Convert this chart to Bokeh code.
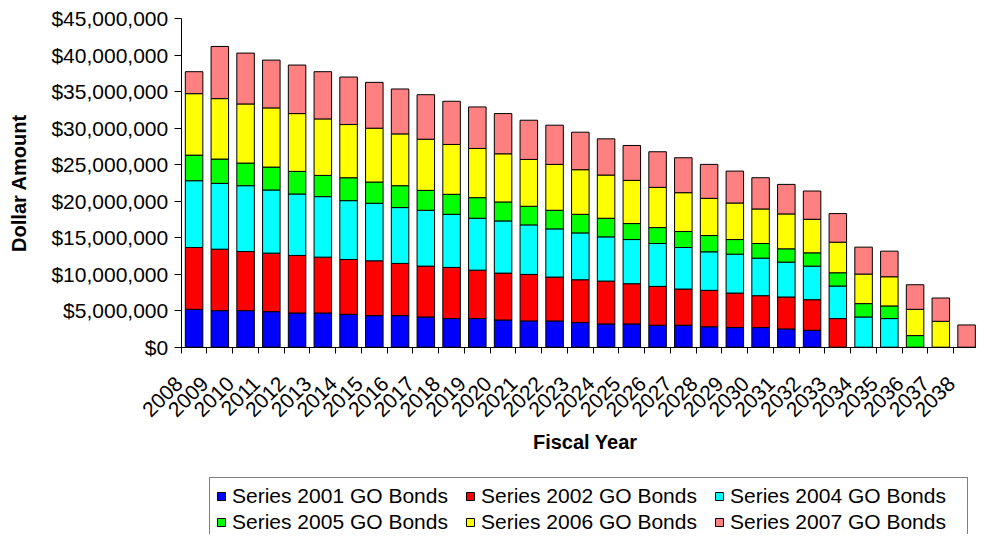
import math
from bokeh.plotting import figure
from bokeh.models import (ColumnDataSource, Range1d, FixedTicker, NumeralTickFormatter,
                          Legend, LegendItem, Label)
from bokeh.embed import file_html
from bokeh.resources import INLINE

years = ["2008", "2009", "2010", "2011", "2012", "2013", "2014", "2015", "2016", "2017",
         "2018", "2019", "2020", "2021", "2022", "2023", "2024", "2025", "2026", "2027",
         "2028", "2029", "2030", "2031", "2032", "2033", "2034", "2035", "2036", "2037", "2038"]

series_names = ["Series 2001 GO Bonds", "Series 2002 GO Bonds", "Series 2004 GO Bonds",
                "Series 2005 GO Bonds", "Series 2006 GO Bonds", "Series 2007 GO Bonds"]

# values in millions of dollars
s2001 = [5.19, 5.01, 5.01, 4.87, 4.69, 4.69, 4.51, 4.33, 4.33, 4.14, 3.92, 3.92, 3.73, 3.60, 3.60,
         3.37, 3.19, 3.19, 3.01, 3.01, 2.80, 2.69, 2.69, 2.50, 2.32, 0, 0, 0, 0, 0, 0]
s2002 = [8.47, 8.42, 8.10, 8.02, 7.88, 7.65, 7.51, 7.51, 7.15, 6.97, 7.01, 6.64, 6.42, 6.37, 6.01,
         5.87, 5.87, 5.51, 5.32, 4.96, 4.99, 4.73, 4.37, 4.38, 4.19, 3.92, 0, 0, 0, 0, 0]
s2004 = [9.15, 9.02, 9.02, 8.65, 8.42, 8.29, 8.06, 7.88, 7.65, 7.65, 7.28, 7.11, 7.15, 6.79, 6.60,
         6.42, 6.06, 6.05, 5.88, 5.69, 5.28, 5.33, 5.14, 4.78, 4.60, 4.46, 4.14, 3.92, 0, 0, 0]
s2005 = [3.51, 3.33, 3.10, 3.14, 3.10, 2.91, 3.14, 2.91, 3.00, 2.73, 2.74, 2.82, 2.60, 2.55, 2.55,
         2.55, 2.55, 2.19, 2.18, 2.19, 2.23, 2.00, 2.01, 1.82, 1.82, 1.82, 1.83, 1.73, 1.59, 0, 0]
s2006 = [8.42, 8.28, 8.10, 8.11, 7.92, 7.74, 7.29, 7.38, 7.10, 7.01, 6.83, 6.74, 6.60, 6.42, 6.29,
         6.11, 5.92, 5.92, 5.51, 5.32, 5.10, 5.01, 4.73, 4.78, 4.60, 4.19, 4.05, 4.00, 3.60, 3.55, 0]
s2007 = [3.01, 7.15, 6.97, 6.55, 6.65, 6.47, 6.51, 6.28, 6.15, 6.10, 5.92, 5.69, 5.51, 5.37, 5.37,
         5.14, 4.96, 4.78, 4.88, 4.79, 4.65, 4.37, 4.28, 4.05, 3.87, 3.92, 3.69, 3.51, 3.37, 3.19, 3.05]

y_ticks = [0, 5e6, 10e6, 15e6, 20e6, 25e6, 30e6, 35e6, 40e6, 45e6]

colors = ["#0000FF", "#FF0000", "#00FFFF", "#00FF00", "#FFFF00", "#FF8080"]
keys = ["s2001", "s2002", "s2004", "s2005", "s2006", "s2007"]
all_series = [s2001, s2002, s2004, s2005, s2006, s2007]

n = len(years)
centers = [i + 0.5 for i in range(n)]
label_pos = [i - 0.08 for i in range(n)]
data = {"x": centers, "year": years}
for k, s in zip(keys, all_series):
    data[k] = [v * 1e6 for v in s]
src = ColumnDataSource(data)

FONT = "Liberation Sans"

# The frame fills the whole canvas; both axes are pinned at 0 so that their
# labels, the axis titles and the legend all sit inside it.
p = figure(width=976, height=534, output_backend="svg", toolbar_location=None,
           x_range=Range1d(-7.0175, 30.885), y_range=Range1d(-25.665e6, 47.506e6),
           min_border_left=0, min_border_right=0, min_border_top=0, min_border_bottom=0)

rs = p.vbar_stack(keys, x="x", width=0.68, source=src, fill_color=colors,
                  line_color="black", line_width=1)

p.xgrid.visible = False
p.ygrid.visible = False
p.outline_line_color = None
p.background_fill_color = "white"
p.border_fill_color = "white"

xa = p.xaxis[0]
xa.fixed_location = 0
xa.bounds = (0, n)
xa.ticker = FixedTicker(ticks=label_pos, minor_ticks=list(range(n + 1)))
xa.major_label_overrides = {c: y for c, y in zip(label_pos, years)}
xa.major_label_orientation = math.pi / 4
xa.major_tick_out = 0
xa.major_tick_in = 0
xa.minor_tick_out = 6
xa.minor_tick_in = 0
xa.minor_tick_line_color = "black"
xa.axis_line_color = "black"
xa.major_label_text_font = FONT
xa.major_label_text_font_size = "21px"
xa.major_label_text_color = "black"
xa.major_label_standoff = 27

ya = p.yaxis[0]
ya.fixed_location = 0
ya.bounds = (0, y_ticks[-1])
ya.ticker = FixedTicker(ticks=y_ticks)
ya.formatter = NumeralTickFormatter(format="$0,0")
ya.major_tick_out = 7
ya.major_tick_in = 0
ya.minor_tick_out = 0
ya.minor_tick_in = 0
ya.major_tick_line_color = "black"
ya.axis_line_color = "black"
ya.major_label_text_font = FONT
ya.major_label_text_font_size = "21px"
ya.major_label_text_color = "black"
ya.major_label_standoff = 6

p.add_layout(Label(x=n / 2 + 0.19, y=-13.0e6, text="Fiscal Year", text_font=FONT,
                   text_font_size="20px", text_font_style="bold", text_color="black",
                   text_align="center", text_baseline="middle"))
p.add_layout(Label(x=-6.30, y=y_ticks[-1] / 2, text="Dollar Amount", angle=math.pi / 2,
                   text_font=FONT, text_font_size="20px", text_font_style="bold",
                   text_color="black", text_align="center", text_baseline="middle"))

items = [LegendItem(label=nm, renderers=[r]) for nm, r in zip(series_names, rs)]
legend = Legend(items=items, location=(209, -7), orientation="horizontal", ncols=3,
                border_line_color="black", border_line_width=1, background_fill_color="white",
                background_fill_alpha=1, label_text_font=FONT, label_text_font_size="21px",
                label_text_color="black", glyph_width=10, glyph_height=10, label_standoff=6,
                label_width=231, spacing=2, padding=6, margin=0)
p.add_layout(legend)

open("out.html", "w").write(file_html(p, INLINE))
